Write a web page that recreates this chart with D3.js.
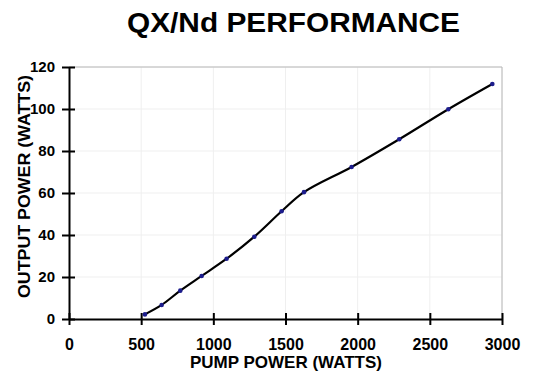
<!DOCTYPE html>
<html><head><meta charset="utf-8">
<script src="https://cdn.jsdelivr.net/npm/d3@7"></script>
<style>body{margin:0;background:#fff}svg{display:block}text{font-family:"Liberation Sans",Arial,sans-serif;font-weight:bold;fill:#000}</style>
</head><body><svg id="c" width="533" height="373"></svg>
<script>
const pumpPower = [526, 642, 771, 919, 1092, 1284, 1473, 1628, 1958, 2288, 2628, 2933];
const outputPower = [2.2, 6.7, 13.5, 20.5, 28.7, 39.2, 51.3, 60.4, 72.4, 85.6, 99.9, 111.9];
const xTicks = [0, 500, 1000, 1500, 2000, 2500, 3000];
const yTicks = [0, 20, 40, 60, 80, 100, 120];
const title = "QX/Nd PERFORMANCE";
const xTitle = "PUMP POWER (WATTS)";
const yTitle = "OUTPUT POWER (WATTS)";

const svg = d3.select("#c");
const L = 69, R = 502, T = 67, B = 319;
const x = d3.scaleLinear().domain([0, 3000]).range([L, R]);
const y = d3.scaleLinear().domain([0, 120]).range([B, T]);

// gridlines
svg.append("g").selectAll("line").data(yTicks.slice(1)).join("line")
  .attr("x1", L).attr("x2", R).attr("y1", d => y(d)).attr("y2", d => y(d))
  .attr("stroke", "#efefef").attr("stroke-width", 1);
svg.append("g").selectAll("line").data(xTicks.slice(1)).join("line")
  .attr("y1", T).attr("y2", B).attr("x1", d => x(d)).attr("x2", d => x(d))
  .attr("stroke", "#efefef").attr("stroke-width", 1);
// plot border top/right
svg.append("path").attr("d", `M${L},${T}H${R}V${B}`).attr("fill", "none")
  .attr("stroke", "#b8b8b8").attr("stroke-width", 1);

// axes
const xAxis = svg.append("g").attr("transform", `translate(0,${B})`)
  .call(d3.axisBottom(x).tickValues(xTicks).tickSize(0).tickPadding(20).tickFormat(d3.format("d")));
const yAxis = svg.append("g").attr("transform", `translate(${L},0)`)
  .call(d3.axisLeft(y).tickValues(yTicks).tickSize(0).tickPadding(14).tickFormat(d3.format("d")));
[xAxis, yAxis].forEach(g => {
  g.select(".domain").attr("stroke", "#000").attr("stroke-width", 2);
  g.selectAll("text").attr("fill", "#000").attr("font-weight", "bold");
});
xAxis.selectAll("text").style("font-size", "16px").attr("dy", "0.71em");
yAxis.selectAll("text").style("font-size", "15px");
xAxis.selectAll(".tick").append("line").attr("y1", -6).attr("y2", 6).attr("stroke", "#000").attr("stroke-width", 2);
yAxis.selectAll(".tick").append("line").attr("x1", -7).attr("x2", 6).attr("stroke", "#000").attr("stroke-width", 2);

// line
const pts = pumpPower.map((p, i) => [p, outputPower[i]]);
svg.append("path").datum(pts)
  .attr("d", d3.line().x(d => x(d[0])).y(d => y(d[1])).curve(d3.curveCatmullRom.alpha(0.5)))
  .attr("fill", "none").attr("stroke", "#000").attr("stroke-width", 2.2);
svg.append("g").selectAll("circle").data(pts).join("circle")
  .attr("cx", d => x(d[0])).attr("cy", d => y(d[1])).attr("r", 2.3).attr("fill", "#1c1c8c");

// titles
svg.append("text").attr("x", 293.5).attr("y", 32).attr("text-anchor", "middle")
  .style("font-size", "27px").attr("textLength", 333).attr("lengthAdjust", "spacingAndGlyphs").text(title);
svg.append("text").attr("x", 286).attr("y", 368).attr("text-anchor", "middle")
  .style("font-size", "17px").attr("textLength", 192).attr("lengthAdjust", "spacingAndGlyphs").text(xTitle);
svg.append("text").attr("transform", "translate(30,186.5) rotate(-90)").attr("text-anchor", "middle")
  .style("font-size", "16px").attr("textLength", 223).attr("lengthAdjust", "spacingAndGlyphs").text(yTitle);
</script></body></html>
